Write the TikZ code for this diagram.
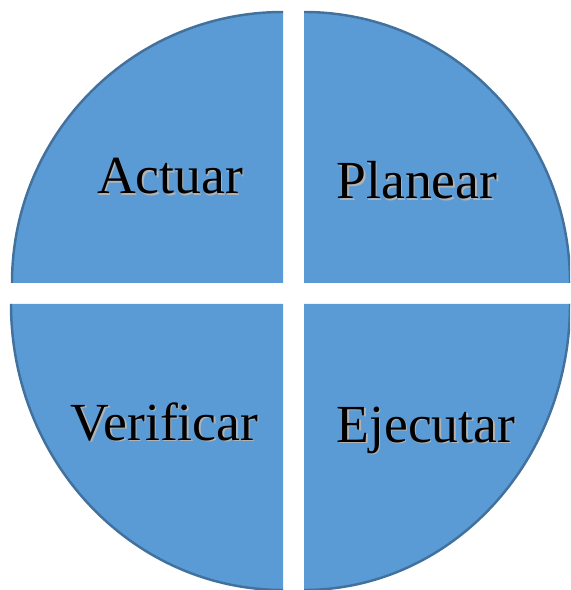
\documentclass[tikz,border=0pt]{standalone}
\usepackage{fontspec}
\setmainfont{Liberation Serif}
\definecolor{pdcafill}{HTML}{5B9BD5}
\definecolor{pdcaline}{HTML}{41719C}
\begin{document}
\begin{tikzpicture}[x=0.02cm, y=0.02cm,
  quarter/.style={fill=pdcafill},
  rim/.style={draw=pdcaline, line width=1.4pt},
  word/.style={anchor=base, inner sep=0pt, font=\fontsize{30.5}{31}\selectfont},
  wordshade/.style={word, text=black!30}]
\useasboundingbox (-293.5,-296.5) rectangle (276.5,293.5);
\begin{scope}
\clip (-293.5,-296.5) rectangle (276.5,293.5);
% four quarters
\fill[quarter] (-10.5,10.5) -- ++(-271,0) arc[start angle=180, end angle=90, x radius=271, y radius=271] -- cycle;
\fill[quarter] (10.5,10.5) -- ++(0,271) arc[start angle=90, end angle=0, x radius=266, y radius=271] -- cycle;
\fill[quarter] (10.5,-10.5) -- ++(266,0) arc[start angle=0, end angle=-90, x radius=266, y radius=286] -- cycle;
\fill[quarter] (-10.5,-10.5) -- ++(0,-286) arc[start angle=270, end angle=180, x radius=272, y radius=286] -- cycle;
% outer rims
\draw[rim] (-281.5,10.5) arc[start angle=180, end angle=90, x radius=271, y radius=271];
\draw[rim] (10.5,281.5) arc[start angle=90, end angle=0, x radius=266, y radius=271];
\draw[rim] (276.5,-10.5) arc[start angle=0, end angle=-90, x radius=266, y radius=286];
\draw[rim] (-10.5,-296.5) arc[start angle=270, end angle=180, x radius=272, y radius=286];
\end{scope}
% labels
\node[wordshade] (actuar-s) at (-122,98) {Actuar};
\node[word] (actuar) at (-123.5,99.5) {Actuar};
\node[wordshade] (planear-s) at (125,93) {Planear};
\node[word] (planear) at (123.5,94.5) {Planear};
\node[wordshade] (verificar-s) at (-127.5,-148) {Verificar};
\node[word] (verificar) at (-129,-146.5) {Verificar};
\node[wordshade] (ejecutar-s) at (134,-150) {Ejecutar};
\node[word] (ejecutar) at (132.5,-148.5) {Ejecutar};
\end{tikzpicture}
\end{document}
